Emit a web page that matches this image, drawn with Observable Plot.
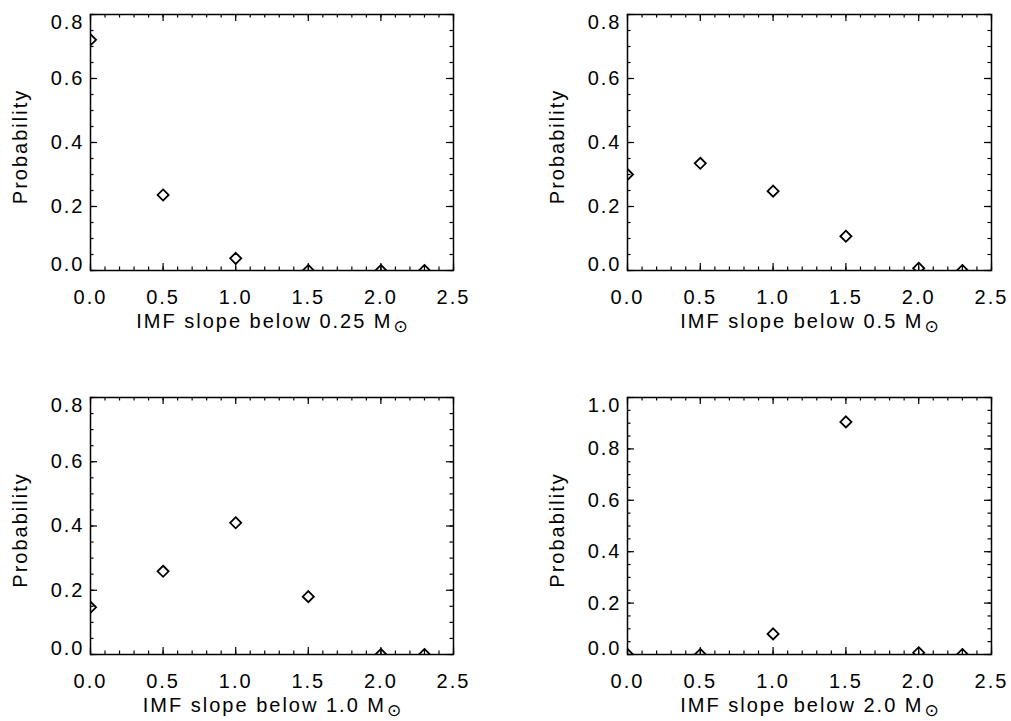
<!DOCTYPE html>
<html><head><meta charset="utf-8">
<script src="https://cdn.jsdelivr.net/npm/d3@7"></script>
<script src="https://cdn.jsdelivr.net/npm/@observablehq/plot@0.6"></script>
<style>
html,body{margin:0;padding:0;background:#fff;}
#wrap{position:relative;width:1011px;height:721px;background:#fff;}
#wrap > div{position:absolute;}
</style></head><body><div id="wrap"></div>
<script>
// ---- data ----
const slopes = [0.0, 0.5, 1.0, 1.5, 2.0, 2.3];
const probBelow025 = [0.721, 0.236, 0.038, 0, 0, 0];
const probBelow05  = [0.300, 0.335, 0.248, 0.107, 0.007, 0];
const probBelow10  = [0.147, 0.259, 0.410, 0.180, 0, 0];
const probBelow20  = [0, 0, 0.080, 0.905, 0.007, 0];
const massLimits = ["0.25", "0.5", "1.0", "2.0"];
const xTicks = [0.0, 0.5, 1.0, 1.5, 2.0, 2.5];
const yTicksShort = [0.0, 0.2, 0.4, 0.6, 0.8];
const yTicksTall = [0.0, 0.2, 0.4, 0.6, 0.8, 1.0];
const yLabel = "Probability";
const xLabelPrefix = "IMF slope below ";

const fmt = d3.format(".1f");
const xMinor = d3.range(0, 26).map(i => i / 10);

const panels = [
  {values: probBelow025, mass: massLimits[0], yTicks: yTicksShort, left: 0,   top: 0,   width: 505, height: 360, ml: 90,  mr: 52, mt: 14, mb: 90},
  {values: probBelow05,  mass: massLimits[1], yTicks: yTicksShort, left: 505, top: 0,   width: 506, height: 360, ml: 122, mr: 20, mt: 14, mb: 90},
  {values: probBelow10,  mass: massLimits[2], yTicks: yTicksShort, left: 0,   top: 360, width: 505, height: 361, ml: 90,  mr: 52, mt: 37, mb: 67},
  {values: probBelow20,  mass: massLimits[3], yTicks: yTicksTall,  left: 505, top: 360, width: 506, height: 361, ml: 122, mr: 20, mt: 37, mb: 67}
];

const wrap = document.getElementById("wrap");
for (const p of panels) {
  const fw = p.width - p.ml - p.mr, fh = p.height - p.mt - p.mb;
  const data = slopes.map((s, i) => ({s, v: p.values[i]}));
  const yMax = p.yTicks[p.yTicks.length - 1];
  const yMinor = d3.range(0, Math.round(yMax / 0.05) + 1).map(i => i * 0.05);
  const midTicks = p.yTicks.slice(1, -1);
  const tickStyle = {stroke: "#000", strokeWidth: 1.2};
  const axisOpts = {tickSize: 0, tickFormat: fmt, label: null, fill: "#000"};
  const chart = Plot.plot({
    width: p.width, height: p.height,
    marginLeft: p.ml, marginRight: p.mr, marginTop: p.mt, marginBottom: p.mb,
    x: {domain: [0, 2.5]},
    y: {domain: [0, yMax]},
    style: {fontFamily: "'Liberation Sans', Arial, sans-serif", fontSize: "20px", color: "#000", background: "#fff", letterSpacing: "2px", overflow: "visible"},
    marks: [
      // inward ticks, bottom & top
      Plot.ruleX(xTicks, {x: d => d, insetTop: fh - 7, ...tickStyle}),
      Plot.ruleX(xMinor, {x: d => d, insetTop: fh - 3.5, ...tickStyle}),
      Plot.ruleX(xTicks, {x: d => d, insetBottom: fh - 7, ...tickStyle}),
      Plot.ruleX(xMinor, {x: d => d, insetBottom: fh - 3.5, ...tickStyle}),
      // inward ticks, left & right
      Plot.ruleY(p.yTicks, {y: d => d, insetRight: fw - 7, ...tickStyle}),
      Plot.ruleY(yMinor, {y: d => d, insetRight: fw - 3.5, ...tickStyle}),
      Plot.ruleY(p.yTicks, {y: d => d, insetLeft: fw - 7, ...tickStyle}),
      Plot.ruleY(yMinor, {y: d => d, insetLeft: fw - 3.5, ...tickStyle}),
      Plot.frame({stroke: "#000", strokeWidth: 1.5}),
      Plot.dot(data, {x: "s", y: "v", symbol: "diamond2", r: 5, stroke: "#000", strokeWidth: 1.8, fill: "none", clip: true}),
      Plot.axisX(xTicks, {...axisOpts, tickPadding: 19}),
      Plot.axisY(midTicks, {...axisOpts, tickPadding: 6}),
      Plot.axisY([yMax], {...axisOpts, tickPadding: 6, dy: 8}),
      Plot.axisY([0], {...axisOpts, tickPadding: 6, dy: -6}),
      Plot.text([yLabel], {frameAnchor: "left", textAnchor: "middle", rotate: -90, dx: -78, dy: 4, lineAnchor: "top", fill: "#000"}),
      Plot.text([xLabelPrefix + p.mass + " M"], {frameAnchor: "bottom", textAnchor: "middle", dy: 43, lineAnchor: "top", fill: "#000"})
    ]
  });
  // add the subscript solar symbol
  d3.select(chart).selectAll("text").each(function () {
    if (this.textContent.startsWith(xLabelPrefix)) {
      d3.select(this).append("tspan")
        .attr("dy", 4).attr("dx", 1)
        .style("font-family", "'DejaVu Sans', sans-serif")
        .style("font-size", "17px")
        .style("letter-spacing", "0px")
        .text("\u2299");
    }
  });
  const holder = document.createElement("div");
  holder.style.left = p.left + "px";
  holder.style.top = p.top + "px";
  holder.appendChild(chart);
  wrap.appendChild(holder);
}
</script>
</body></html>
